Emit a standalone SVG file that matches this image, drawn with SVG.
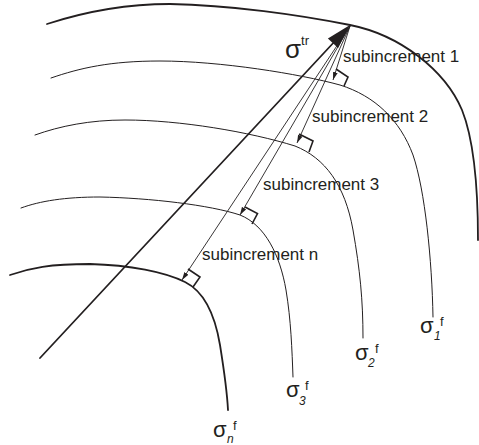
<svg xmlns="http://www.w3.org/2000/svg" width="479" height="445" viewBox="0 0 479 445">
<style>
.thick{fill:none;stroke:#231f20;stroke-width:1.8;stroke-linecap:round}
.thin{fill:none;stroke:#231f20;stroke-width:1;stroke-linecap:round}
.ra{fill:none;stroke:#231f20;stroke-width:1.6;stroke-linejoin:miter}
.arr{fill:none;stroke:#231f20;stroke-width:0.9;marker-end:url(#ah)}
text{font-family:"Liberation Sans",Arial,sans-serif;fill:#231f20}
.lbl{font-size:17px}
.sig{font-size:22px}
.sup{font-size:13px}
.sub{font-size:12px;font-style:italic}
</style>
<defs>
<marker id="ah" viewBox="0 0 8 6" refX="8" refY="3" markerWidth="8" markerHeight="6" markerUnits="userSpaceOnUse" orient="auto">
<path d="M0,0.6 L8,3 L0,5.4 z" fill="#231f20"/>
</marker>
</defs>
<g id="surfaces">
<g id="outer"><path class="thick" d="M47,24 C90,10 130,4 170,4 C230,5 300,15 350,25 C400,35 445,70 462,110 C472,135 478,180 478,240"/></g>
<g id="curve1"><path class="thin" d="M51,78 C80,68 110,61 160,61 C220,61 300,74 340,85 C375,96 400,120 413,155 C425,190 432,260 433,317"/></g>
<g id="curve2"><path class="thin" d="M35,135 C60,126 90,120 125,120 C180,120 250,132 295,146 C325,158 345,185 353,230 C360,270 363,300 363,338"/></g>
<g id="curve3"><path class="thin" d="M21,208 C40,201 65,197 100,197 C150,198 210,205 240,215 C265,225 280,255 286,290 C291,320 292,350 293,377"/></g>
<g id="curven"><path class="thick" d="M10,275 C30,268 50,264 90,264 C130,265 165,272 185,282 C205,292 215,315 220,345 C224,370 227,390 228,410"/></g>
</g>
<g id="connectors">
<line class="thick" x1="40" y1="358" x2="336" y2="40"/>
<path d="M350,25 L338.1,48.1 L327.9,38.5 z" fill="#231f20"/>
<line class="arr" x1="350" y1="26" x2="333" y2="80"/>
<line class="arr" x1="350" y1="26" x2="297" y2="143"/>
<line class="arr" x1="350" y1="26" x2="240" y2="215"/>
<line class="arr" x1="350" y1="26" x2="182" y2="280"/>
<polyline class="ra" points="336,69 348,77 344,86"/>
<polyline class="ra" points="299,134 313,141 309,152"/>
<polyline class="ra" points="245,207 257.5,213.5 252,224"/>
<polyline class="ra" points="188,269 200,277 193,287"/>
</g>
<g id="labels">
<text class="lbl" x="343" y="62">subincrement 1</text>
<text class="lbl" x="312" y="122">subincrement 2</text>
<text class="lbl" x="263" y="190">subincrement 3</text>
<text class="lbl" x="202" y="260">subincrement n</text>
<text x="285" y="58"><tspan style="font-size:26px">σ</tspan><tspan class="sup" dy="-13">tr</tspan></text>
<text class="sig" x="420" y="333">σ</text><text class="sub" x="434" y="340">1</text><text class="sup" x="440" y="326">f</text>
<text class="sig" x="355" y="360">σ</text><text class="sub" x="368" y="367">2</text><text class="sup" x="375" y="353">f</text>
<text class="sig" x="286" y="397">σ</text><text class="sub" x="299" y="405">3</text><text class="sup" x="305" y="390">f</text>
<text class="sig" x="213" y="437">σ</text><text class="sub" x="227" y="443">n</text><text class="sup" x="233" y="430">f</text>
</g>
</svg>
